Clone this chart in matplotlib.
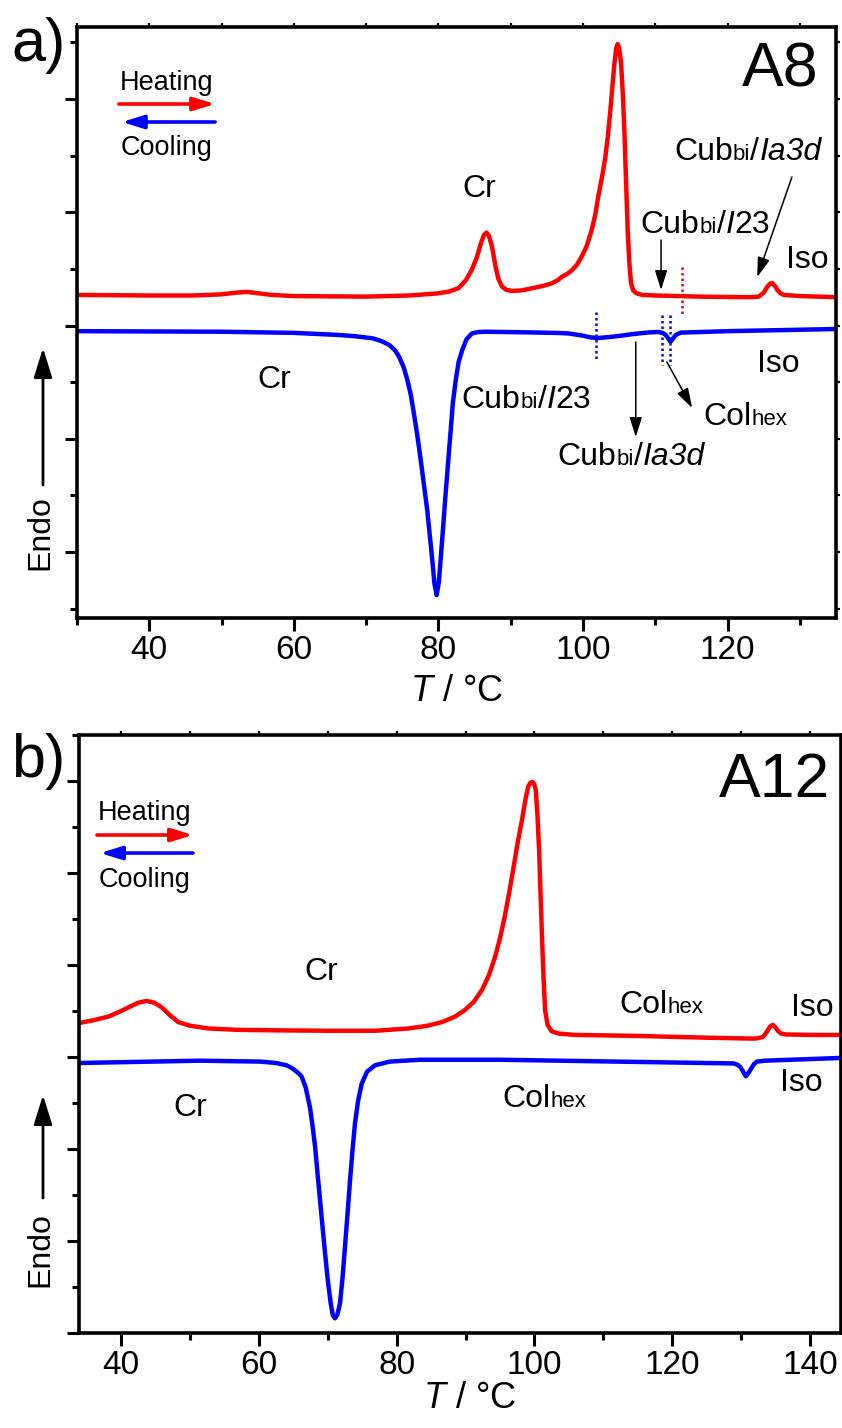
import matplotlib
matplotlib.use("Agg")
import matplotlib.pyplot as plt
from matplotlib.ticker import MultipleLocator
from matplotlib.transforms import Affine2D

plt.rcParams["font.family"] = ["Liberation Sans", "DejaVu Sans"]
plt.rcParams["mathtext.fontset"] = "custom"
plt.rcParams["mathtext.rm"] = "Liberation Sans"
plt.rcParams["mathtext.it"] = "Liberation Sans:italic"

# ---------------- A8: DSC traces (T in degC, heat flow in arbitrary units) ----
a_heat_T = [30.0, 40.0, 46.0, 50.0, 52.0, 53.5, 55.0, 57.0, 60.0, 70.0, 76.0,
            80.0, 81.5, 82.8, 83.8, 84.6, 85.3, 85.9, 86.3, 86.65, 87.0, 87.4,
            87.9, 88.3, 88.8, 89.4, 90.2, 91.5, 92.9, 94.5, 95.7, 96.5, 97.1,
            97.8, 98.5, 99.2, 99.8, 100.5, 101.2, 101.7, 102.1, 102.6, 103.1,
            103.45, 103.75, 104.05, 104.35, 104.6, 104.8, 105.0, 105.27, 105.5,
            105.72, 105.95, 106.18, 106.4, 106.64, 106.95, 107.4, 108.2, 110.0,
            116.9, 123.2, 124.3, 125.0, 125.5, 125.9, 126.2, 126.6, 126.9, 127.3,
            127.8, 130.0, 135.0]
a_heat_v = [2.27, 2.265, 2.265, 2.275, 2.29, 2.297, 2.285, 2.27, 2.26, 2.255,
            2.265, 2.284, 2.30, 2.331, 2.40, 2.49, 2.60, 2.73, 2.80, 2.82, 2.79,
            2.70, 2.52, 2.41, 2.343, 2.315, 2.305, 2.31, 2.328, 2.35, 2.373,
            2.40, 2.431, 2.455, 2.49, 2.54, 2.607, 2.70, 2.843, 2.98, 3.137, 3.30,
            3.491, 3.68, 3.874, 4.10, 4.315, 4.45, 4.486, 4.45, 4.315, 4.05,
            3.726, 3.28, 2.843, 2.56, 2.373, 2.31, 2.284, 2.27, 2.265, 2.254,
            2.25, 2.255, 2.29, 2.343, 2.37, 2.373, 2.345, 2.313, 2.285, 2.27,
            2.26, 2.25]

a_cool_T = [30.0, 50.0, 60.0, 66.3, 68.5, 70.9, 72.2, 73.2, 74.0, 74.55, 75.2,
            75.7, 76.2, 76.6, 77.1, 77.55, 78.0, 78.45, 78.8, 79.15, 79.45, 79.75,
            80.05, 80.3, 80.65, 81.0, 81.35, 81.7, 82.0, 82.4, 82.8, 83.3, 83.9,
            84.65, 85.5, 86.5, 92.0, 96.6, 98.0, 100.0, 101.0, 102.1, 103.5, 104.9,
            107.0, 109.0, 110.4, 111.0, 111.4, 111.8, 112.1, 112.4, 112.8, 113.5,
            120.0, 135.0]
a_cool_v = [1.95, 1.945, 1.935, 1.916, 1.905, 1.887, 1.86, 1.828, 1.78, 1.725,
            1.63, 1.519, 1.38, 1.225, 1.02, 0.812, 0.59, 0.371, 0.15, -0.071,
            -0.28, -0.38, -0.27, -0.071, 0.22, 0.518, 0.80, 1.077, 1.32, 1.519,
            1.68, 1.784, 1.88, 1.931, 1.942, 1.945, 1.94, 1.934, 1.93, 1.91,
            1.895, 1.89, 1.897, 1.907, 1.925, 1.938, 1.943, 1.935, 1.92, 1.885,
            1.857, 1.88, 1.915, 1.937, 1.95, 1.969]

# transition onsets marked with dotted bars
a_heat_marks = [113.7]
a_cool_marks = [101.8, 110.9, 112.1]

# ---------------- A12: DSC traces --------------------------------------------
b_heat_T = [34.0, 36.0, 38.2, 40.0, 41.1, 42.5, 43.7, 44.8, 45.9, 47.0, 48.3,
            50.0, 52.7, 57.0, 62.4, 70.0, 76.9, 81.7, 84.5, 86.6, 88.5, 89.9,
            91.2, 92.4, 93.4, 94.3, 95.0, 95.7, 96.3, 96.9, 97.5, 98.2, 98.7,
            99.1, 99.4, 99.7, 99.95, 100.2, 100.45, 100.7, 100.9, 101.1, 101.3,
            101.55, 101.9, 102.5, 103.5, 105.9, 114.4, 125.0, 131.8, 132.5,
            133.2, 133.7, 134.2, 134.6, 135.0, 135.4, 135.8, 136.5, 140.0, 144.5]
b_heat_v = [3.37, 3.40, 3.44, 3.50, 3.54, 3.59, 3.61, 3.59, 3.54, 3.46, 3.38,
            3.34, 3.31, 3.295, 3.29, 3.285, 3.285, 3.31, 3.34, 3.38, 3.44, 3.51,
            3.60, 3.73, 3.89, 4.09, 4.29, 4.53, 4.77, 5.03, 5.30, 5.58, 5.80,
            5.94, 5.98, 5.99, 5.97, 5.90, 5.62, 5.21, 4.75, 4.31, 3.90, 3.51,
            3.35, 3.28, 3.255, 3.24, 3.23, 3.21, 3.20, 3.205, 3.22, 3.27, 3.33,
            3.35, 3.32, 3.28, 3.255, 3.245, 3.24, 3.24]

b_cool_T = [34.0, 51.5, 60.2, 62.5, 64.0, 64.8, 65.5, 66.2, 66.8, 67.43, 67.8,
            68.16, 68.5, 68.88, 69.25, 69.61, 70.0, 70.44, 70.75, 71.06, 71.4,
            71.78, 72.15, 72.51, 72.9, 73.24, 73.6, 73.96, 74.4, 74.93, 75.7,
            76.86, 79.0, 83.4, 95.0, 128.9, 129.5, 129.9, 130.3, 130.7, 131.1,
            131.5, 131.9, 132.3, 133.5, 144.5]
b_cool_v = [2.935, 2.96, 2.95, 2.935, 2.91, 2.88, 2.84, 2.79, 2.67, 2.449, 2.25,
            2.03, 1.75, 1.45, 1.15, 0.87, 0.58, 0.32, 0.19, 0.16, 0.20, 0.32,
            0.60, 0.94, 1.32, 1.66, 1.99, 2.28, 2.52, 2.71, 2.84, 2.91, 2.95,
            2.97, 2.97, 2.93, 2.915, 2.89, 2.84, 2.79, 2.83, 2.88, 2.925, 2.95,
            2.96, 2.99]

RED = "#ff0000"
BLUE = "#0000ff"
LBL = 23      # phase label size
SUB = 16      # small "bi"/"hex" part
LW = 3.2

fig = plt.figure(figsize=(8.42, 14.28), dpi=100)
W, H = 842.0, 1428.0
ax_a = fig.add_axes([77 / W, 1 - 618 / H, (836 - 77) / W, (618 - 27) / H])
ax_b = fig.add_axes([79 / W, 1 - 1333 / H, (841 - 79) / W, (1333 - 735) / H])


def style_axes(ax, xlim, ylim):
    ax.set_xlim(*xlim)
    ax.set_ylim(*ylim)
    for sp in ax.spines.values():
        sp.set_linewidth(2.6)
    ax.xaxis.set_major_locator(MultipleLocator(20))
    ax.xaxis.set_minor_locator(MultipleLocator(10))
    ax.yaxis.set_major_locator(MultipleLocator(1))
    ax.yaxis.set_minor_locator(MultipleLocator(0.5))
    ax.tick_params(which="major", direction="out", length=9, width=2.2,
                   labelsize=24, pad=3.5)
    ax.tick_params(which="minor", direction="out", length=5, width=2.2)
    ax.tick_params(axis="y", labelleft=False)
    # small outward ticks mirrored on top and right
    top = ax.secondary_xaxis("top")
    top.xaxis.set_major_locator(MultipleLocator(10))
    top.tick_params(direction="out", length=3, width=1.6, labeltop=False)
    right = ax.secondary_yaxis("right")
    right.yaxis.set_major_locator(MultipleLocator(0.5))
    right.tick_params(direction="out", length=3, width=1.6, labelright=False)
    for sec in (top, right):
        for sp in sec.spines.values():
            sp.set_visible(False)


def rich_label(ax, x, y, parts, color="black"):
    """Centre a run of differently-sized/styled pieces on a common baseline."""
    renderer = fig.canvas.get_renderer()
    objs, widths = [], []
    for s, size, style in parts:
        t = ax.text(x, y, s, fontsize=size, fontstyle=style, va="baseline",
                    ha="left", color=color)
        widths.append(t.get_window_extent(renderer).width)
        objs.append(t)
    off = -sum(widths) / 2.0
    for t, w in zip(objs, widths):
        t.set_transform(ax.transData + Affine2D().translate(off, 0))
        off += w


def arrow(ax, start, end, **kw):
    props = dict(arrowstyle="-|>,head_length=0.8,head_width=0.25", color="black",
                 lw=1.1, mutation_scale=15, shrinkA=0, shrinkB=0)
    props.update(kw)
    ax.annotate("", xy=end, xytext=start, arrowprops=props)


def legend_arrows(ax, t_heat, t_cool, y_ht, y_ha, y_ca, y_ct):
    ax.text(sum(t_heat) / 2, y_ht, "Heating", fontsize=19.5, ha="center", va="center")
    arrow(ax, (t_heat[0], y_ha), (t_heat[1], y_ha), color=RED, lw=2.6,
          mutation_scale=20, arrowstyle="-|>,head_length=0.65,head_width=0.2")
    arrow(ax, (t_cool[0], y_ca), (t_cool[1], y_ca), color=BLUE, lw=2.6,
          mutation_scale=20, arrowstyle="-|>,head_length=0.65,head_width=0.2")
    ax.text(sum(t_heat) / 2, y_ct, "Cooling", fontsize=19.5, ha="center", va="center")


# ---------------- panel a ----------------
style_axes(ax_a, (30, 135), (-0.583, 4.636))
ax_a.plot(a_heat_T, a_heat_v, color=RED, lw=LW, solid_joinstyle="round")
ax_a.plot(a_cool_T, a_cool_v, color=BLUE, lw=LW, solid_joinstyle="round")
for t in a_heat_marks:
    ax_a.plot([t, t], [2.52, 2.09], color=RED, lw=1.8, ls=(0, (1, 1.2)))
ax_a.plot([a_cool_marks[0]] * 2, [2.12, 1.69], color=BLUE, lw=1.8, ls=(0, (1, 1.2)))
for t in a_cool_marks[1:]:
    ax_a.plot([t, t], [2.09, 1.65], color=BLUE, lw=1.8, ls=(0, (1, 1.2)))

ax_a.set_xlabel(r"$T$ / °C", fontsize=26)
ax_a.xaxis.set_label_coords(0.50, -0.125)
ax_a.xaxis.label.set_va("center")

ax_a.text(132.6, 4.26, "A8", fontsize=45, ha="right", va="center")
legend_arrows(ax_a, (35.8, 49.1), (49.1, 36.2), 4.14, 3.956, 3.797, 3.567)

ax_a.text(85.7, 3.205, "Cr", fontsize=LBL, ha="center", va="center")
rich_label(ax_a, 116.9, 2.817, [("Cub", LBL, "normal"), ("bi", SUB, "normal"),
                                 ("/", LBL, "normal"), ("I", LBL, "italic"),
                                 ("23", LBL, "normal")])
arrow(ax_a, (110.8, 2.755), (110.8, 2.313))
rich_label(ax_a, 122.8, 3.461, [("Cub", LBL, "normal"), ("bi", SUB, "normal"),
                                 ("/", LBL, "normal"), ("Ia3d", LBL, "italic")])
arrow(ax_a, (128.9, 3.311), (124.1, 2.428))
ax_a.text(131.1, 2.578, "Iso", fontsize=LBL, ha="center", va="center")

ax_a.text(57.3, 1.519, "Cr", fontsize=LBL, ha="center", va="center")
rich_label(ax_a, 92.2, 1.272, [("Cub", LBL, "normal"), ("bi", SUB, "normal"),
                                ("/", LBL, "normal"), ("I", LBL, "italic"),
                                ("23", LBL, "normal")])
rich_label(ax_a, 106.7, 0.768, [("Cub", LBL, "normal"), ("bi", SUB, "normal"),
                                 ("/", LBL, "normal"), ("Ia3d", LBL, "italic")])
arrow(ax_a, (107.3, 1.854), (107.3, 1.015))
rich_label(ax_a, 122.4, 1.121, [("Col", LBL, "normal"), ("hex", SUB, "normal")])
arrow(ax_a, (111.6, 1.678), (115.1, 1.272))
ax_a.text(127.0, 1.66, "Iso", fontsize=LBL, ha="center", va="center")

# ---------------- panel b ----------------
style_axes(ax_b, (33.9, 144.5), (0, 6.5))
ax_b.plot(b_heat_T, b_heat_v, color=RED, lw=LW, solid_joinstyle="round")
ax_b.plot(b_cool_T, b_cool_v, color=BLUE, lw=LW, solid_joinstyle="round")

ax_b.set_xlabel(r"$T$ / °C", fontsize=26)
ax_b.xaxis.set_label_coords(0.513, -0.109)
ax_b.xaxis.label.set_va("center")

ax_b.text(142.9, 6.01, "A12", fontsize=45, ha="right", va="center")
legend_arrows(ax_b, (36.5, 50.45), (50.45, 36.95), 5.65, 5.413, 5.217, 4.924)

ax_b.text(69.0, 3.924, "Cr", fontsize=LBL, ha="center", va="center")
rich_label(ax_b, 118.5, 3.478, [("Col", LBL, "normal"), ("hex", SUB, "normal")])
ax_b.text(140.4, 3.533, "Iso", fontsize=LBL, ha="center", va="center")
ax_b.text(50.0, 2.446, "Cr", fontsize=LBL, ha="center", va="center")
rich_label(ax_b, 101.4, 2.457, [("Col", LBL, "normal"), ("hex", SUB, "normal")])
ax_b.text(138.8, 2.717, "Iso", fontsize=LBL, ha="center", va="center")

# ---------------- panel letters and "Endo" arrows ----------------
fig.text(38 / W, 1 - 45 / H, "a)", fontsize=44, ha="center", va="center")
fig.text(38 / W, 1 - 762 / H, "b)", fontsize=44, ha="center", va="center")

for text_y, a0, a1 in ((533, 485, 348), (1250, 1198, 1095)):
    fig.text(40 / W, 1 - text_y / H, "Endo", fontsize=LBL, rotation=90,
             ha="center", va="center")
    fig.add_artist(matplotlib.patches.FancyArrowPatch(
        (43 / W, 1 - a0 / H), (43 / W, 1 - a1 / H), transform=fig.transFigure,
        arrowstyle="-|>,head_length=0.9,head_width=0.28", mutation_scale=20,
        color="black", lw=2.0, shrinkA=0, shrinkB=0))

fig.savefig("out.png", dpi=100)
